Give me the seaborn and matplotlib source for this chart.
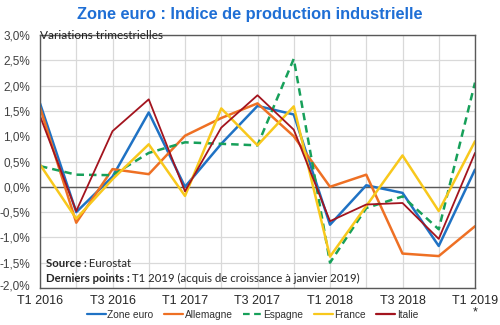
import matplotlib
matplotlib.use("Agg")
import matplotlib.pyplot as plt
import matplotlib.colors as mcolors
import seaborn as sns
import pandas as pd
import numpy as np
from matplotlib.transforms import ScaledTranslation

quarters = ["T1 2016", "T2 2016", "T3 2016", "T4 2016",
            "T1 2017", "T2 2017", "T3 2017", "T4 2017",
            "T1 2018", "T2 2018", "T3 2018", "T4 2018", "T1 2019"]
tick_labels = ["T1 2016", "T3 2016", "T1 2017", "T3 2017", "T1 2018", "T3 2018", "T1 2019\n*"]

zone_euro = [1.65, -0.50, 0.20, 1.47, 0.00, 0.85, 1.60, 1.43, -0.75, 0.03, -0.12, -1.17, 0.34]
allemagne = [1.57, -0.71, 0.35, 0.25, 1.01, 1.36, 1.65, 1.00, 0.00, 0.24, -1.32, -1.37, -0.78]
espagne = [0.41, 0.24, 0.23, 0.67, 0.88, 0.85, 0.82, 2.53, -1.50, -0.42, -0.19, -0.84, 2.06]
france = [0.44, -0.63, 0.15, 0.84, -0.18, 1.55, 0.82, 1.59, -1.38, -0.38, 0.62, -0.48, 0.90]
italie = [1.40, -0.48, 1.10, 1.73, -0.09, 1.17, 1.81, 1.13, -0.68, -0.35, -0.32, -1.03, 0.67]

series_names = ["Zone euro", "Allemagne", "Espagne", "France", "Italie"]
series_vals = [zone_euro, allemagne, espagne, france, italie]

rows = []
for name, vals in zip(series_names, series_vals):
    for i, v in enumerate(vals):
        rows.append({"idx": i, "val": v, "serie": name})
df = pd.DataFrame(rows)

sns.set_style("white")
plt.rcParams['font.family'] = ['Liberation Sans', 'DejaVu Sans']

palette = {"Zone euro": "#1F72C4", "Allemagne": "#EE7024", "Espagne": "#17A05A",
           "France": "#F8C81C", "Italie": "#A3141E"}
dashes = {"Zone euro": "", "Allemagne": "", "Espagne": (3, 2), "France": "", "Italie": ""}

fig = plt.figure(figsize=(5, 3.25), dpi=100)
ax = fig.add_axes([0.08, 0.114, 0.87, 0.778])

ax.set_xlim(0, 12)
ax.set_ylim(-2.0, 3.0)
for x in range(13):
    ax.axvline(x, color="#D9D9D9", lw=0.9, zorder=0)
for y in np.arange(-2.0, 3.01, 0.5):
    ax.axhline(y, color="#D9D9D9", lw=0.9, zorder=0)
ax.axhline(0, color="#595959", lw=1.0, zorder=1)

sns.lineplot(data=df, x="idx", y="val", hue="serie", style="serie",
             palette=palette, dashes=dashes, hue_order=series_names,
             style_order=series_names, linewidth=1.8, ax=ax, legend=True)
italie_hex = mcolors.to_hex(palette["Italie"]).lower()
for line in ax.get_lines():
    if mcolors.to_hex(line.get_color()).lower() == italie_hex:
        line.set_linewidth(1.3)

ax.set_xticks([0, 2, 4, 6, 8, 10, 12])
ax.set_xticklabels(tick_labels, fontsize=9, linespacing=0.9)
yt = np.arange(-2.0, 3.01, 0.5)
ax.set_yticks(yt)
ylabs = ax.set_yticklabels([("%.1f%%" % v).replace(".", ",") for v in yt], fontsize=8.5, color="#404040")
ax.tick_params(axis="y", length=0, pad=7)
ax.tick_params(axis="x", length=0, pad=5)
ylabs[0].set_transform(ylabs[0].get_transform() + ScaledTranslation(0, 3 / 100, fig.dpi_scale_trans))
ax.set_xlabel("")
ax.set_ylabel("")
for s in ax.spines.values():
    s.set_color("#595959")
    s.set_linewidth(1.0)

# legend
handles, labels = ax.get_legend_handles_labels()
ax.get_legend().remove()
leg = fig.legend(handles, labels, loc="center", bbox_to_anchor=(0.505, 0.031), ncol=5,
                 frameon=False, fontsize=7.3, handlelength=1.9, handletextpad=0.15,
                 columnspacing=1.0, borderpad=0.2)
for h in leg.get_lines():
    h.set_linewidth(1.6)
for t in leg.get_texts():
    t.set_color("#303030")

fig.text(0.5, 0.955, "Zone euro : Indice de production industrielle", ha="center", va="center",
         fontsize=11.8, fontweight="bold", color="#1F6FD5")

ax.text(0.0, 1.0, "Variations trimestrielles", transform=ax.transAxes, ha="left", va="center",
        fontsize=8.5, family=["Lato", "DejaVu Sans"], color="#202020")

t1 = ax.text(0.013, 0.098, "Source :", transform=ax.transAxes, ha="left", va="center",
             fontsize=8.2, fontweight="bold", family=["Lato", "DejaVu Sans"])
ax.annotate(" Eurostat", xy=(1, 0.5), xycoords=t1, ha="left", va="center",
            fontsize=8.2, family=["Lato", "DejaVu Sans"])
t2 = ax.text(0.013, 0.038, "Derniers points :", transform=ax.transAxes, ha="left", va="center",
             fontsize=8.2, fontweight="bold", family=["Lato", "DejaVu Sans"])
ax.annotate(" T1 2019 (acquis de croissance à janvier 2019)", xy=(1, 0.5), xycoords=t2,
            ha="left", va="center", fontsize=8.2, family=["Lato", "DejaVu Sans"])

fig.savefig("out.png", dpi=100)
